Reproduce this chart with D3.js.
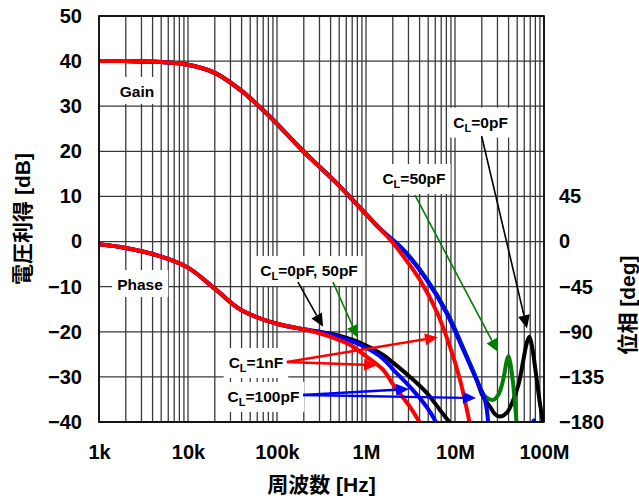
<!DOCTYPE html>
<html>
<head>
<meta charset="UTF-8">
<title>Gain / Phase vs Frequency</title>
<script src="https://d3js.org/d3.v7.min.js"></script>
<style>
  body { margin: 0; background: #fff; }
  svg text { font-family: "Liberation Sans", Arial, "Noto Sans CJK JP", sans-serif; font-weight: bold; fill: #000; }
</style>
</head>
<body>
<svg id="chart" width="639" height="498"></svg>
<script>
// tick values and labels
const freqTicks = [1e3, 1e4, 1e5, 1e6, 1e7, 1e8];
const freqLabels = ["1k", "10k", "100k", "1M", "10M", "100M"];
const gainTicks = [50, 40, 30, 20, 10, 0, -10, -20, -30, -40];
const phaseTicks = [45, 0, -45, -90, -135, -180];

// gain [Hz, dB] - all loads are the same up to about 1.4MHz
const gainShared = [[1e3, 40.0], [2e3, 40.0], [5e3, 39.8], [1e4, 39.2], [2e4, 37.4], [4e4, 33.4],
  [8.3e4, 27.7], [2e5, 19.9], [4.7e5, 12.9], [1.02e6, 5.9], [1.44e6, 2.8]];
const gain1nF = [[1.95e6, 0], [2.8e6, -4], [4.04e6, -8.5], [6.22e6, -15.5], [8.78e6, -23.3],
  [1.14e7, -30.7], [1.47e7, -40.5]];
const gain100pF = [[2.63e6, -1.9], [4.81e6, -8.5], [8.07e6, -15.9], [1.24e7, -24.0], [1.75e7, -30.7],
  [2.17e7, -35.1], [2.37e7, -40.5]];
const gain100pFHigh = [[7.0e7, -42], [7.7e7, -39.6], [8.4e7, -42]];
const gain50pF = [[2.65e6, -1.9], [4.85e6, -8.5], [8.15e6, -15.9], [1.25e7, -24.0], [1.76e7, -30.6],
  [2.0e7, -33.3], [2.26e7, -34.6], [2.69e7, -35.1], [3.1e7, -33.8], [3.49e7, -30.5], [3.8e7, -26.6],
  [3.98e7, -25.4], [4.15e7, -26.6], [4.45e7, -30.7], [4.7e7, -35.5], [4.93e7, -40.5]];
const gain0pF = [[2.66e6, -1.9], [4.87e6, -8.5], [8.2e6, -15.9], [1.26e7, -24.0], [1.77e7, -30.9],
  [2.0e7, -33.8], [2.47e7, -36.6], [2.8e7, -38.2], [3.21e7, -38.8], [3.8e7, -38.0], [4.52e7, -35.1],
  [5.2e7, -31.5], [5.86e7, -26.3], [6.4e7, -22.5], [6.84e7, -21.1], [7.3e7, -23.0], [7.92e7, -27.7],
  [8.8e7, -34.5], [9.8e7, -40.5]];

// phase [Hz, deg]
const phaseShared = [[1e3, -2.8], [2e3, -6.5], [5e3, -15], [1e4, -26], [2e4, -47],
  [4e4, -68.5], [1e5, -82], [2e5, -87.5]];
const phase1nF = [[3e5, -91.5], [4.3e5, -96], [6.6e5, -103], [1.02e6, -115], [1.56e6, -128],
  [2.03e6, -143], [3.12e6, -165], [4.04e6, -181]];
const phase100pF = [[3e5, -90.3], [4.3e5, -93.5], [8.6e5, -103], [1.56e6, -117], [2.03e6, -128],
  [3.12e6, -145], [4.81e6, -165], [6.2e6, -181]];
const phase0pF = [[3e5, -90], [4.3e5, -92.5], [8.6e5, -101], [1.56e6, -113], [2.03e6, -121],
  [3.12e6, -135], [4.81e6, -151], [6.78e6, -168], [8.8e6, -181]];

// text labels, placed in [Hz, dB]
const notes = [
  {t: "Gain", f: 2.67e3, v: 33.3},
  {t: "Phase", f: 2.89e3, v: -9.5},
  {t: "=0pF, 50pF", cl: true, f: 2.29e5, v: -6.4},
  {t: "=1nF", cl: true, f: 5.8e4, v: -26.8},
  {t: "=100pF", cl: true, f: 7.05e4, v: -34.3},
  {t: "=50pF", cl: true, f: 3.46e6, v: 14.0},
  {t: "=0pF", cl: true, f: 1.94e7, v: 26.5}
];

// arrows [Hz, dB] from -> to
const arrows = [
  {c: "#000", w: 1.6, from: [1.99e7, 23.4], to: [6.44e7, -19.2]},
  {c: "#008000", w: 1.6, from: [3.55e6, 10.3], to: [3.04e7, -24.5]},
  {c: "#000", w: 1.6, from: [1.72e5, -9.0], to: [3.29e5, -18.9]},
  {c: "#008000", w: 1.6, from: [4.26e5, -9.0], to: [8.13e5, -21.4]},
  {c: "#ff0000", w: 2.4, from: [1.29e5, -26.7], to: [6.44e6, -21.2]},
  {c: "#ff0000", w: 2.4, from: [1.29e5, -26.7], to: [1.33e6, -27.4]},
  {c: "#0000ff", w: 2.4, from: [1.96e5, -34.0], to: [3.04e6, -32.7]},
  {c: "#0000ff", w: 2.4, from: [1.96e5, -34.0], to: [1.72e7, -34.7]}
];

const margin = { top: 16, right: 95, bottom: 76, left: 99 };
const width = 639 - margin.left - margin.right;
const height = 498 - margin.top - margin.bottom;

const svg = d3.select('#chart');
const g = svg.append('g').attr('transform', `translate(${margin.left},${margin.top})`);

const x = d3.scaleLog().domain([1e3, 1e8]).range([0, width]);
const yGain = d3.scaleLinear().domain([-40, 50]).range([height, 0]);
const yPhase = d3.scaleLinear().domain([-180, 225]).range([height, 0]);

g.append('clipPath').attr('id', 'plot-clip')
  .append('rect').attr('width', width).attr('height', height);

// grid
const vLines = [];
for (let e = 3; e < 8; e++) for (let k = 1; k < 10; k++) vLines.push(k * Math.pow(10, e));
vLines.push(1e8);

g.append('g').selectAll('line').data(vLines).enter().append('line')
  .attr('x1', d => x(d)).attr('x2', d => x(d))
  .attr('y1', 0).attr('y2', height)
  .attr('stroke', '#3a3a3a').attr('stroke-width', 1.3);

g.append('g').selectAll('line').data(gainTicks).enter().append('line')
  .attr('x1', 0).attr('x2', width)
  .attr('y1', d => yGain(d)).attr('y2', d => yGain(d))
  .attr('stroke', '#3a3a3a').attr('stroke-width', 1.3);

// axes (labels only)
function styleAxis(sel) {
  sel.select('.domain').remove();
  sel.attr('font-family', null).attr('font-size', null);
  sel.selectAll('text').style('font-size', '20px');
}

g.append('g')
  .call(d3.axisLeft(yGain).tickValues(gainTicks).tickSize(0).tickPadding(17))
  .call(styleAxis);

g.append('g')
  .attr('transform', `translate(${width},0)`)
  .call(d3.axisRight(yPhase).tickValues(phaseTicks).tickSize(0).tickPadding(15))
  .call(styleAxis);

g.append('g')
  .attr('transform', `translate(0,${height})`)
  .call(d3.axisBottom(x).tickValues(freqTicks).tickFormat((d, i) => freqLabels[i]).tickSize(0).tickPadding(23))
  .call(styleAxis);

// axis titles
svg.append('text')
  .attr('x', margin.left + width / 2).attr('y', 492)
  .attr('text-anchor', 'middle').style('font-size', '21px')
  .text('周波数 [Hz]');

svg.append('text')
  .attr('transform', `translate(22,${margin.top + height / 2}) rotate(-90)`)
  .attr('text-anchor', 'middle').attr('dominant-baseline', 'central').style('font-size', '21px')
  .text('電圧利得 [dB]');

svg.append('text')
  .attr('transform', `translate(627,305) rotate(-90)`)
  .attr('text-anchor', 'middle').attr('dominant-baseline', 'central').style('font-size', '21px')
  .text('位相 [deg]');

// layers: white label boxes, curves, arrows, label text
const boxLayer = g.append('g');
const curveLayer = g.append('g').attr('clip-path', 'url(#plot-clip)');
const arrowLayer = g.append('g');
const textLayer = g.append('g');

// curves
const smooth = d3.curveCatmullRom.alpha(0.5);
const gainLine = d3.line().x(d => x(d[0])).y(d => yGain(d[1])).curve(smooth);
const phaseLine = d3.line().x(d => x(d[0])).y(d => yPhase(d[1])).curve(smooth);

const curves = [
  {line: phaseLine, data: phaseShared.concat(phase0pF), c: '#000'},
  {line: phaseLine, data: phaseShared.concat(phase100pF), c: '#0000ff'},
  {line: phaseLine, data: phaseShared.concat(phase1nF), c: '#ff0000'},
  {line: gainLine, data: gainShared.concat(gain0pF), c: '#000'},
  {line: gainLine, data: gainShared.concat(gain50pF), c: '#008000'},
  {line: gainLine, data: gainShared.concat(gain100pF), c: '#0000ff'},
  {line: gainLine, data: gain100pFHigh, c: '#0000ff'},
  {line: gainLine, data: gainShared.concat(gain1nF), c: '#ff0000'}
];

curveLayer.selectAll('path').data(curves).enter().append('path')
  .attr('d', d => d.line(d.data))
  .attr('fill', 'none')
  .attr('stroke', d => d.c)
  .attr('stroke-width', 4)
  .attr('stroke-linejoin', 'round');

// arrows
arrows.forEach(a => {
  const x1 = x(a.from[0]), y1 = yGain(a.from[1]);
  const x2 = x(a.to[0]), y2 = yGain(a.to[1]);
  const ang = Math.atan2(y2 - y1, x2 - x1);
  const len = 13, hw = 6;
  const bx = x2 - len * Math.cos(ang), by = y2 - len * Math.sin(ang);
  arrowLayer.append('line')
    .attr('x1', x1).attr('y1', y1).attr('x2', bx).attr('y2', by)
    .attr('stroke', a.c).attr('stroke-width', a.w);
  const pts = [
    [x2, y2],
    [bx + hw * Math.sin(ang), by - hw * Math.cos(ang)],
    [bx - hw * Math.sin(ang), by + hw * Math.cos(ang)]
  ];
  arrowLayer.append('path')
    .attr('d', 'M' + pts.join('L') + 'Z')
    .attr('fill', a.c);
});

// labels
notes.forEach(n => {
  const t = textLayer.append('text')
    .attr('x', x(n.f)).attr('y', yGain(n.v))
    .attr('text-anchor', 'middle')
    .attr('dy', '0.36em')
    .style('font-size', '15.5px');
  if (n.cl) {
    t.append('tspan').text('C');
    t.append('tspan').attr('dy', 4).style('font-size', '11px').text('L');
    t.append('tspan').attr('dy', -4).text(n.t);
  } else {
    t.text(n.t);
  }
  const bb = t.node().getBBox();
  boxLayer.append('rect')
    .attr('x', bb.x - 5).attr('y', bb.y - 6)
    .attr('width', bb.width + 10).attr('height', bb.height + 10)
    .attr('fill', '#fff');
});

// plot border
g.append('rect')
  .attr('width', width).attr('height', height)
  .attr('fill', 'none').attr('stroke', '#000').attr('stroke-width', 1.6);
</script>
</body>
</html>
